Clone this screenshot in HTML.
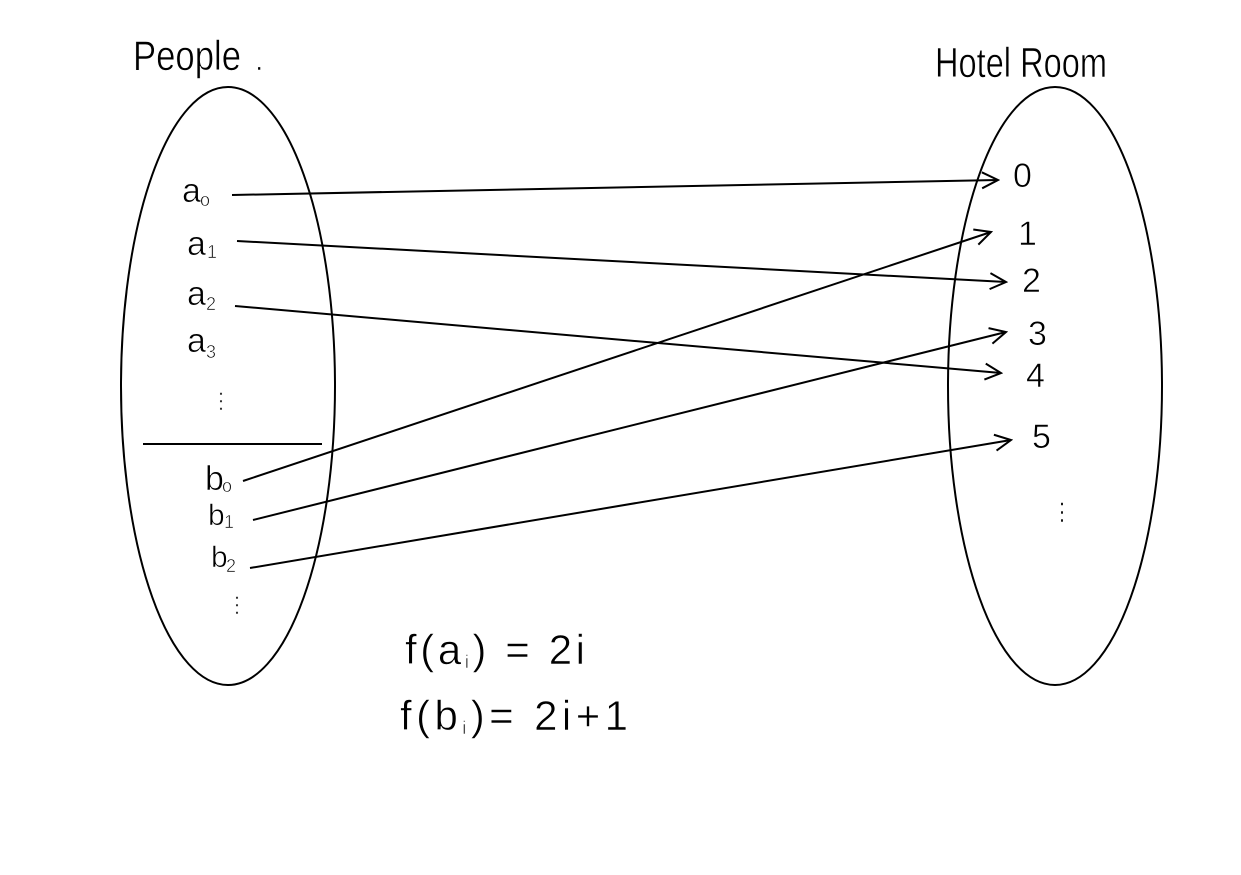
<!DOCTYPE html>
<html><head><meta charset="utf-8"><style>
html,body{margin:0;padding:0;background:#fff;width:1241px;height:875px;overflow:hidden}
text{font-family:"Liberation Sans",sans-serif;fill:#000;font-weight:normal}
</style></head><body>
<svg width="1241" height="875" viewBox="0 0 1241 875" xmlns="http://www.w3.org/2000/svg">
<defs>
<marker id="ah" viewBox="0 0 20 20" refX="18" refY="10" markerWidth="20" markerHeight="20" markerUnits="userSpaceOnUse" orient="auto">
<path d="M2 2 L18 10 L2 18" fill="none" stroke="#000" stroke-width="2"/>
</marker>
</defs>
<g fill="none" stroke="#000" stroke-width="2">
<ellipse cx="228" cy="386" rx="107" ry="299"/>
<ellipse cx="1055" cy="386" rx="107" ry="299"/>
<line x1="143" y1="444" x2="322" y2="444"/>
<line x1="232" y1="195" x2="998" y2="180" marker-end="url(#ah)"/>
<line x1="237" y1="241" x2="1006" y2="282" marker-end="url(#ah)"/>
<line x1="235" y1="306" x2="1001" y2="373" marker-end="url(#ah)"/>
<line x1="243" y1="481" x2="991" y2="232" marker-end="url(#ah)"/>
<line x1="253" y1="520" x2="1006" y2="332" marker-end="url(#ah)"/>
<line x1="250" y1="568" x2="1011" y2="440" marker-end="url(#ah)"/>
</g>
<g stroke="#fff" stroke-width="0.6">
<text x="133" y="70" font-size="42" textLength="108" lengthAdjust="spacingAndGlyphs">People</text>
<text x="255" y="70" font-size="30">.</text>
<text x="935" y="77" font-size="42" textLength="172" lengthAdjust="spacingAndGlyphs">Hotel Room</text>
<text x="182" y="202" font-size="34">a</text><text x="200" y="206" font-size="18">o</text>
<text x="187" y="255" font-size="34">a</text><text x="207" y="258" font-size="18">1</text>
<text x="187" y="305" font-size="34">a</text><text x="206" y="310" font-size="18">2</text>
<text x="187" y="352" font-size="34">a</text><text x="206" y="358" font-size="18">3</text>
<text x="210" y="408" font-size="22">⋮</text>
<text x="205" y="490" font-size="34">b</text><text x="222" y="492" font-size="18">o</text>
<text x="208" y="525" font-size="30">b</text><text x="224" y="528" font-size="18">1</text>
<text x="211" y="567" font-size="30">b</text><text x="226" y="572" font-size="18">2</text>
<text x="226" y="612" font-size="22">⋮</text>
<text x="1013" y="187" font-size="34">0</text>
<text x="1018" y="245" font-size="34">1</text>
<text x="1022" y="292" font-size="34">2</text>
<text x="1028" y="345" font-size="34">3</text>
<text x="1026" y="387" font-size="34">4</text>
<text x="1032" y="448" font-size="34">5</text>
<text x="1050" y="520" font-size="24">⋮</text>
<text x="405" y="664" font-size="42" textLength="180" lengthAdjust="spacing">f(a<tspan font-size="18" dy="4">i</tspan><tspan dy="-4">) = 2i</tspan></text>
<text x="400" y="730" font-size="42" textLength="228" lengthAdjust="spacing">f(b<tspan font-size="18" dy="4">i</tspan><tspan dy="-4">)= 2i+1</tspan></text>
</g>
</svg>
</body></html>
